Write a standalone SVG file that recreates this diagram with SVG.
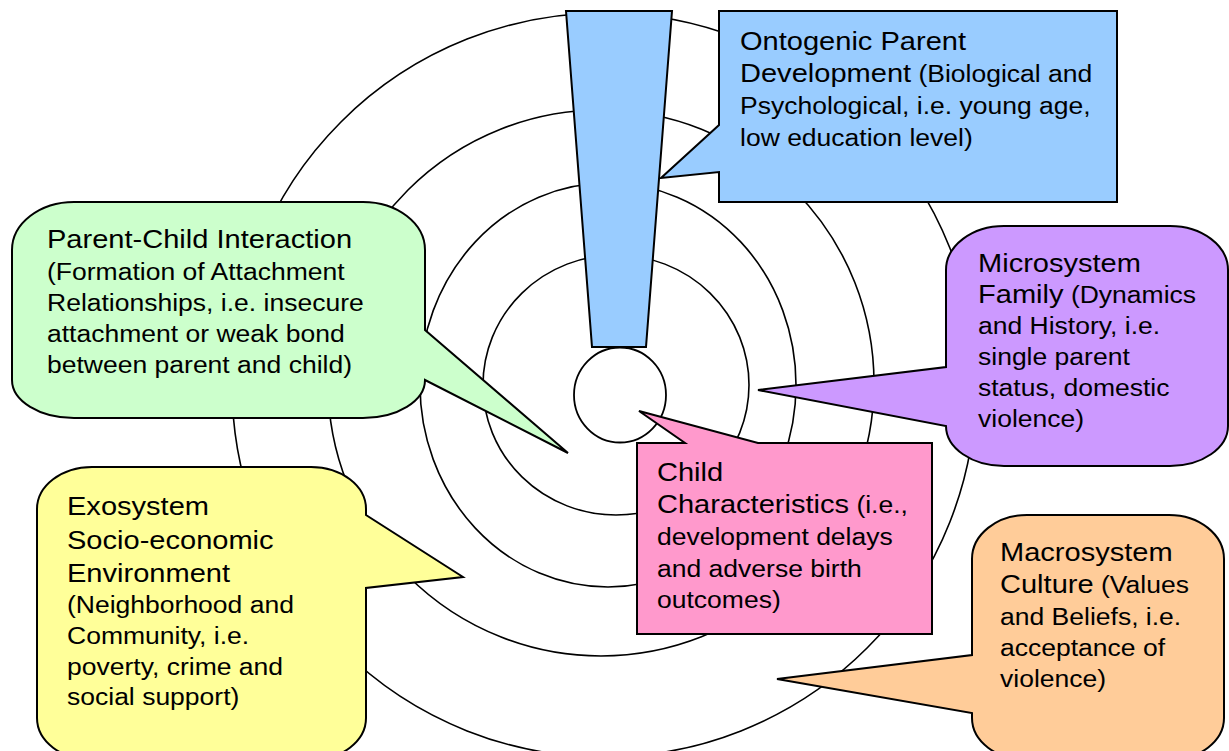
<svg xmlns="http://www.w3.org/2000/svg" width="1229" height="751" viewBox="0 0 1229 751">
  <style>
    .ring { fill: none; stroke: #000; stroke-width: 1.6; }
    .box { stroke: #000; stroke-width: 2; stroke-linejoin: miter; }
    .lbl { font-family: "Liberation Sans", Arial, sans-serif; fill: #000; }
    .ti { font-size: 26.4px; }
    .bd { font-size: 24.1px; }
  </style>
  <rect x="0" y="0" width="1229" height="751" fill="#fff"/>

  <!-- concentric rings of the ecological model -->
  <g id="rings">
    <circle class="ring" cx="604" cy="385" r="372"/>
    <circle class="ring" cx="601" cy="383" r="273"/>
    <ellipse class="ring" cx="608" cy="385" rx="188" ry="202"/>
    <ellipse class="ring" cx="616" cy="385" rx="133" ry="130"/>
  </g>

  <!-- exclamation mark: tapering bar over a dot -->
  <g id="exclamation">
    <polygon class="box" fill="#99CCFF" points="566,11 672,11 646,347 592,347"/>
    <ellipse cx="620" cy="395" rx="46" ry="47.5" fill="#fff" stroke="#000" stroke-width="1.8"/>
  </g>

  <g id="connectors"/>

  <!-- Ontogenic parent development -->
  <g id="ontogenic">
    <path class="box" fill="#99CCFF" d="M719,11 H1117 V202 H719 V172 L661,178 L719,125 Z"/>
    <text class="lbl" transform="translate(740 0) scale(1.1 1)">
      <tspan class="ti" x="0" y="50">Ontogenic Parent</tspan>
      <tspan class="ti" x="0" y="82">Development</tspan><tspan class="bd"> (Biological and</tspan>
      <tspan class="bd" x="0" y="114">Psychological, i.e. young age,</tspan>
      <tspan class="bd" x="0" y="146">low education level)</tspan>
    </text>
  </g>

  <!-- Parent-child interaction -->
  <g id="parent-child">
    <path class="box" fill="#CCFFCC" d="M74,202 H363 A62,48 0 0 1 425,250 V330 L568,453 L425,380 A62,38 0 0 1 363,418 H74 A62,38 0 0 1 12,380 V250 A62,48 0 0 1 74,202 Z"/>
    <text class="lbl" transform="translate(47 0) scale(1.1 1)">
      <tspan class="ti" x="0" y="248">Parent-Child Interaction</tspan>
      <tspan class="bd" x="0" y="280">(Formation of Attachment</tspan>
      <tspan class="bd" x="0" y="311">Relationships, i.e. insecure</tspan>
      <tspan class="bd" x="0" y="342">attachment or weak bond</tspan>
      <tspan class="bd" x="0" y="373">between parent and child)</tspan>
    </text>
  </g>

  <!-- Exosystem -->
  <g id="exosystem">
    <path class="box" fill="#FFFF99" d="M92,467 H311 A55,42 0 0 1 366,509 V515 L463,577 L366,588 V718 A55,42 0 0 1 311,760 H92 A55,42 0 0 1 37,718 V509 A55,42 0 0 1 92,467 Z"/>
    <text class="lbl" transform="translate(67 0) scale(1.1 1)">
      <tspan class="ti" x="0" y="515">Exosystem</tspan>
      <tspan class="ti" x="0" y="549">Socio-economic</tspan>
      <tspan class="ti" x="0" y="582">Environment</tspan>
      <tspan class="bd" x="0" y="613">(Neighborhood and</tspan>
      <tspan class="bd" x="0" y="644">Community, i.e.</tspan>
      <tspan class="bd" x="0" y="675">poverty, crime and</tspan>
      <tspan class="bd" x="0" y="705">social support)</tspan>
    </text>
  </g>

  <!-- Microsystem -->
  <g id="microsystem">
    <path class="box" fill="#CC99FF" d="M1004,226 H1170 A58,44 0 0 1 1228,270 V426 A58,40 0 0 1 1170,466 H1004 A58,40 0 0 1 946,426 L758,390 L946,367 V270 A58,44 0 0 1 1004,226 Z"/>
    <text class="lbl" transform="translate(978 0) scale(1.1 1)">
      <tspan class="ti" x="0" y="272">Microsystem</tspan>
      <tspan class="ti" x="0" y="303">Family</tspan><tspan class="bd"> (Dynamics</tspan>
      <tspan class="bd" x="0" y="334">and History, i.e.</tspan>
      <tspan class="bd" x="0" y="365">single parent</tspan>
      <tspan class="bd" x="0" y="396">status, domestic</tspan>
      <tspan class="bd" x="0" y="427">violence)</tspan>
    </text>
  </g>

  <!-- Child characteristics -->
  <g id="child">
    <path class="box" fill="#FF99CC" d="M637,443 H685 L639,411 L758,443 H932 V634 H637 Z"/>
    <text class="lbl" transform="translate(657 0) scale(1.1 1)">
      <tspan class="ti" x="0" y="481">Child</tspan>
      <tspan class="ti" x="0" y="513">Characteristics</tspan><tspan class="bd"> (i.e.,</tspan>
      <tspan class="bd" x="0" y="545">development delays</tspan>
      <tspan class="bd" x="0" y="577">and adverse birth</tspan>
      <tspan class="bd" x="0" y="608">outcomes)</tspan>
    </text>
  </g>

  <!-- Macrosystem -->
  <g id="macrosystem">
    <path class="box" fill="#FFCC99" d="M1027,515 H1169 A55,44 0 0 1 1224,559 V718 A55,42 0 0 1 1169,760 H1027 A55,42 0 0 1 972,718 V713 L777,679 L972,655 V559 A55,44 0 0 1 1027,515 Z"/>
    <text class="lbl" transform="translate(1000 0) scale(1.1 1)">
      <tspan class="ti" x="0" y="561">Macrosystem</tspan>
      <tspan class="ti" x="0" y="593">Culture</tspan><tspan class="bd"> (Values</tspan>
      <tspan class="bd" x="0" y="625">and Beliefs, i.e.</tspan>
      <tspan class="bd" x="0" y="656">acceptance of</tspan>
      <tspan class="bd" x="0" y="687">violence)</tspan>
    </text>
  </g>
</svg>
